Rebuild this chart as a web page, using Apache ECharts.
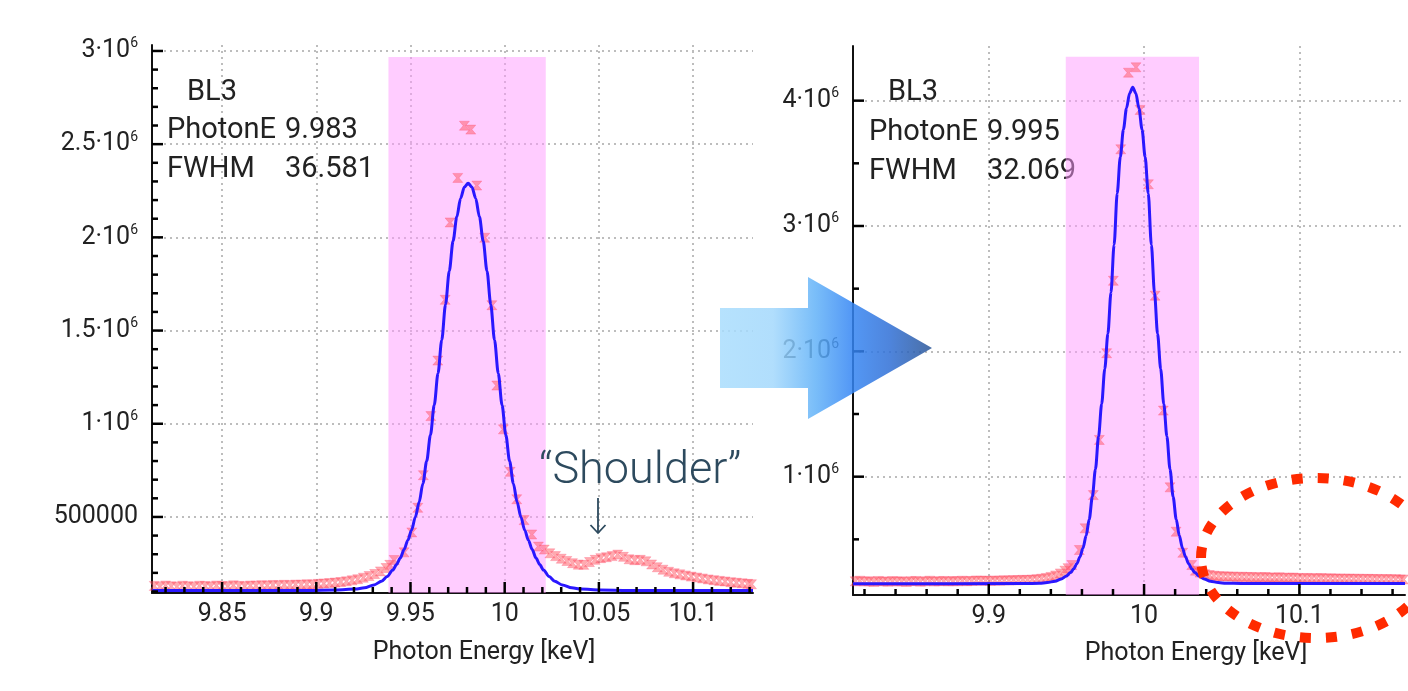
<!DOCTYPE html>
<html>
<head>
<meta charset="utf-8">
<script src="https://cdn.jsdelivr.net/npm/echarts@6/dist/echarts.min.js"></script>
<style>
html,body{margin:0;padding:0;background:#fff;}
#c{width:1408px;height:691px;}
</style>
</head>
<body>
<div id="c"></div>
<script>
// ---------- DATA (intensities in units of 10^6 counts, energies in keV) ----------
const L_DATA_E = [9.814,9.817,9.820,9.823,9.826,9.829,9.832,9.835,9.838,9.841,9.844,9.847,9.850,9.853,9.856,9.859,9.862,9.865,9.868,9.871,9.874,9.877,9.880,9.883,9.886,9.889,9.892,9.895,9.898,9.901,9.904,9.907,9.910,9.913,9.916,9.919,9.922,9.925,9.928,9.931,9.934,9.937,9.939,
  9.9413,9.9466,9.9507,9.9539,9.9568,9.9608,9.9645,9.9684,9.9710,9.9751,9.9786,9.9820,9.9852,9.9894,9.9932,9.9958,9.9993,10.0029,10.0064,10.0103,10.0144,10.0179,
  10.021,10.024,10.027,10.030,10.033,10.036,10.039,10.042,10.045,10.048,10.051,10.054,10.057,10.060,10.063,10.066,10.069,10.072,10.075,10.078,10.081,10.084,10.087,10.090,10.093,10.096,10.099,10.102,10.105,10.108,10.111,10.114,10.117,10.120,10.123,10.126,10.129,10.131];
const L_DATA_I = [0.130,0.126,0.132,0.128,0.125,0.131,0.128,0.126,0.131,0.129,0.127,0.132,0.129,0.128,0.133,0.130,0.128,0.132,0.131,0.134,0.132,0.135,0.133,0.136,0.134,0.137,0.136,0.139,0.138,0.141,0.143,0.145,0.148,0.151,0.155,0.160,0.166,0.174,0.183,0.194,0.208,0.226,0.243,
  0.269,0.310,0.417,0.549,0.724,1.041,1.339,1.665,2.080,2.319,2.599,2.578,2.278,1.998,1.636,1.205,0.970,0.742,0.595,0.483,0.406,0.341,
  0.325,0.305,0.290,0.276,0.264,0.252,0.244,0.243,0.258,0.270,0.279,0.284,0.290,0.298,0.286,0.273,0.268,0.270,0.262,0.245,0.230,0.217,0.206,0.198,0.192,0.186,0.180,0.175,0.170,0.165,0.161,0.157,0.154,0.150,0.147,0.144,0.141,0.139];
const L_FIT_E = [9.813,9.8956,9.9106,9.9206,9.9256,9.9306,9.9346,9.9376,9.9406,9.9426,9.9446,9.9466,9.9486,9.9506,9.9526,9.9546,9.9566,9.9586,9.9606,9.9626,9.9646,9.9666,9.9686,9.9706,9.9726,9.9746,9.9766,9.9786,9.9806,
  9.9826,9.9846,9.9866,9.9886,9.9906,9.9926,9.9946,9.9966,9.9986,10.0006,10.0026,10.0046,10.0066,10.0086,10.0106,10.0126,10.0146,10.0166,10.0186,10.0206,10.0236,10.0266,10.0306,10.0356,10.0406,10.0506,10.0656,10.1318];
const L_FIT_I = [0.105,0.106,0.108,0.113,0.120,0.135,0.155,0.180,0.215,0.245,0.280,0.325,0.375,0.430,0.500,0.580,0.680,0.800,0.940,1.100,1.270,1.450,1.640,1.820,1.980,2.110,2.210,2.270,2.290,
  2.270,2.210,2.110,1.980,1.820,1.640,1.450,1.270,1.100,0.940,0.800,0.680,0.580,0.500,0.430,0.375,0.325,0.280,0.245,0.215,0.180,0.155,0.135,0.120,0.113,0.108,0.106,0.105];

const R_DATA_E = [9.814,9.817,9.820,9.823,9.826,9.829,9.832,9.835,9.838,9.841,9.844,9.847,9.850,9.853,9.856,9.859,9.862,9.865,9.868,9.871,9.874,9.877,9.880,9.883,9.886,9.889,9.892,9.895,9.898,9.901,9.904,9.907,9.910,9.913,9.916,9.919,9.922,9.925,9.928,9.931,9.934,9.937,9.940,9.943,9.946,9.949,9.951,
  9.9535,9.9583,9.9620,9.9673,9.9712,9.9759,9.9802,9.9850,9.9899,9.9948,9.9974,10.0028,10.0071,10.0124,10.0167,10.0206,10.0249,10.0307,
  10.033,10.036,10.039,10.042,10.045,10.048,10.051,10.054,10.057,10.060,10.063,10.066,10.069,10.072,10.075,10.078,10.081,10.084,10.087,10.090,10.093,10.096,10.099,10.102,10.105,10.108,10.111,10.114,10.117,10.120,10.123,10.126,10.129,10.132,10.135,10.138,10.141,10.144,10.147,10.150,10.153,10.156,10.159,10.162,10.165,10.167];
const R_DATA_I = [0.165,0.170,0.163,0.166,0.160,0.168,0.164,0.162,0.167,0.163,0.165,0.160,0.166,0.168,0.162,0.165,0.170,0.163,0.166,0.168,0.164,0.167,0.165,0.170,0.166,0.168,0.172,0.169,0.171,0.168,0.172,0.170,0.174,0.172,0.175,0.174,0.177,0.176,0.179,0.182,0.186,0.192,0.200,0.212,0.228,0.250,0.270,
  0.295,0.415,0.588,0.853,1.293,1.985,2.563,3.612,4.223,4.266,3.926,3.333,2.444,1.527,0.915,0.561,0.393,0.295,
  0.250,0.235,0.222,0.215,0.210,0.206,0.205,0.203,0.204,0.200,0.202,0.199,0.200,0.198,0.197,0.199,0.196,0.195,0.197,0.194,0.193,0.195,0.192,0.190,0.192,0.190,0.189,0.191,0.188,0.189,0.187,0.188,0.186,0.187,0.185,0.186,0.184,0.185,0.183,0.184,0.182,0.183,0.181,0.182,0.180,0.180];
const R_FIT_E = [9.8126,9.9227,9.9327,9.9377,9.9427,9.9467,9.9497,9.9527,9.9547,9.9567,9.9587,9.9607,9.9627,9.9647,9.9667,9.9687,9.9707,9.9727,9.9747,9.9767,9.9787,9.9807,9.9827,9.9847,9.9867,9.9887,9.9907,9.9927,
  9.9947,9.9967,9.9987,10.0007,10.0027,10.0047,10.0067,10.0087,10.0107,10.0127,10.0147,10.0167,10.0187,10.0207,10.0227,10.0247,10.0267,10.0287,10.0307,10.0327,10.0357,10.0387,10.0427,10.0477,10.0527,10.0627,10.168];
const R_FIT_I = [0.145,0.147,0.150,0.155,0.166,0.183,0.205,0.235,0.265,0.305,0.360,0.430,0.530,0.660,0.840,1.060,1.320,1.580,1.860,2.140,2.470,2.850,3.260,3.550,3.770,3.940,4.060,4.107,
  4.060,3.940,3.770,3.550,3.260,2.850,2.470,2.140,1.860,1.580,1.320,1.060,0.840,0.660,0.530,0.430,0.360,0.305,0.265,0.235,0.205,0.183,0.166,0.155,0.150,0.148,0.148];

const L_X_RANGE = [9.8128, 10.1318];
const L_Y_RANGE = [0.092, 3.032];
const R_X_RANGE = [9.8126, 10.168];
const R_Y_RANGE = [0.056, 4.436];
const L_X_TICKS = [9.85, 9.9, 9.95, 10, 10.05, 10.1];
const L_X_MINOR = [9.82,9.83,9.84,9.86,9.87,9.88,9.89,9.91,9.92,9.93,9.94,9.96,9.97,9.98,9.99,10.01,10.02,10.03,10.04,10.06,10.07,10.08,10.09,10.11,10.12,10.13];
const L_Y_TICKS = [0.5, 1, 1.5, 2, 2.5, 3];
const L_Y_MINOR = [0.1,0.2,0.3,0.4,0.6,0.7,0.8,0.9,1.1,1.2,1.3,1.4,1.6,1.7,1.8,1.9,2.1,2.2,2.3,2.4,2.6,2.7,2.8,2.9];
const R_X_TICKS = [9.9, 10, 10.1];
const R_X_MINOR = [9.82,9.84,9.86,9.88,9.92,9.94,9.96,9.98,10.02,10.04,10.06,10.08,10.12,10.14,10.16];
const R_Y_TICKS = [1, 2, 3, 4];
const R_Y_MINOR = [0.5, 1.5, 2.5, 3.5];

const L_BAND = [9.9383, 10.0218, 2.968];
const R_BAND = [9.9496, 10.0354, 4.351];

const L_INFO = ['BL3', 'PhotonE', '9.983', 'FWHM', '36.581'];
const R_INFO = ['BL3', 'PhotonE', '9.995', 'FWHM', '32.069'];
const X_TITLE = 'Photon Energy [keV]';
const SHOULDER = '\u201CShoulder\u201D';

// ---------- CHART ----------
const FONT = 'Roboto';
const INK = '#222';
const AXIS = '#111';
const GRIDS = [
  { left: 152, top: 45, width: 601, height: 548 },
  { left: 853, top: 46, width: 552, height: 549 }
];
const RANGES = [[L_X_RANGE, L_Y_RANGE], [R_X_RANGE, R_Y_RANGE]];
const zip = (a, b) => a.map((v, i) => [v, b[i]]);

function yFmt(v) {
  if (v < 1) return String(Math.round(v * 1e6));
  return '{b|' + v + '\u00B710}{s|6}';
}
const yRich = {
  b: { fontSize: 25, fontFamily: FONT, color: INK, lineHeight: 28 },
  s: { fontSize: 14, fontFamily: FONT, color: INK, lineHeight: 14, verticalAlign: 'top' }
};
const split = { show: true, showMinLine: false, showMaxLine: false,
  lineStyle: { color: '#bdbdbd', width: 2, type: [2, 4] } };

function xAx(grid, range, ticks) {
  return { type: 'value', gridIndex: grid, position: 'bottom', min: range[0], max: range[1],
    axisLine: { show: true, onZero: false, lineStyle: { color: AXIS, width: 2 } },
    axisTick: { show: false }, minorTick: { show: false },
    axisLabel: { customValues: ticks, fontSize: 25, fontFamily: FONT, color: INK, margin: 9 },
    splitLine: split };
}
function yAx(grid, range, ticks) {
  return { type: 'value', gridIndex: grid, position: 'left', min: range[0], max: range[1],
    axisLine: { show: true, onZero: false, lineStyle: { color: AXIS, width: 2 } },
    axisTick: { show: false }, minorTick: { show: false },
    axisLabel: { customValues: ticks, formatter: yFmt, rich: yRich, fontSize: 25, fontFamily: FONT, color: INK, margin: 14 },
    splitLine: split };
}

const MARKER = 'path://M0,0 L10,0 L6.2,5 L10,10 L0,10 L3.8,5 Z';

function panelSeries(idx, dE, dI, fE, fI, band, yMin) {
  return [
    { type: 'line', xAxisIndex: idx, yAxisIndex: idx, data: zip(fE, fI), silent: true,
      showSymbol: false, symbol: 'none', z: 1, lineStyle: { width: 0, opacity: 0 },
      markArea: { silent: true, itemStyle: { color: 'rgba(255,153,255,0.5)' },
        data: [[{ xAxis: band[0], yAxis: band[2] }, { xAxis: band[1], yAxis: yMin }]] } },
    { type: 'scatter', xAxisIndex: idx, yAxisIndex: idx, data: zip(dE, dI), silent: true,
      symbol: MARKER, symbolSize: [10, 9], z: 3,
      itemStyle: { color: 'rgba(255,85,95,0.62)', borderColor: 'rgba(255,70,110,0.45)', borderWidth: 0.8 } },
    { type: 'line', xAxisIndex: idx, yAxisIndex: idx, data: zip(fE, fI), silent: true,
      showSymbol: false, symbol: 'none', smooth: 0.3, smoothMonotone: 'x', z: 4,
      lineStyle: { color: '#2a17ff', width: 3 } }
  ];
}

function txt(x, y, s, size) {
  return { type: 'text', x: x, y: y, z: 0,
    style: { text: s, fill: INK, font: size + 'px ' + FONT, textVerticalAlign: 'middle', textAlign: 'left' } };
}

const baseGraphic = [
  txt(187, 93, L_INFO[0], 29), txt(167, 131, L_INFO[1], 29), txt(285, 131, L_INFO[2], 29),
  txt(167, 170, L_INFO[3], 29), txt(285, 170, L_INFO[4], 29),
  txt(888, 93, R_INFO[0], 29), txt(869, 133, R_INFO[1], 29), txt(987, 133, R_INFO[2], 29),
  txt(869, 172, R_INFO[3], 29), txt(987, 172, R_INFO[4], 29),
  { type: 'text', x: 484, y: 653, z: 0, style: { text: X_TITLE, fill: INK, font: '25px ' + FONT, textAlign: 'center', textVerticalAlign: 'middle' } },
  { type: 'text', x: 1196, y: 654, z: 0, style: { text: X_TITLE, fill: INK, font: '25px ' + FONT, textAlign: 'center', textVerticalAlign: 'middle' } },
  { type: 'text', x: 539, y: 472, z: 50, style: { text: SHOULDER, fill: '#2d4a5e', font: '300 45px ' + FONT, textAlign: 'left', textVerticalAlign: 'middle' } },
  { type: 'line', z: 50, shape: { x1: 598, y1: 498, x2: 598, y2: 533 }, style: { stroke: '#2d4a5e', lineWidth: 1.8 } },
  { type: 'polyline', z: 50, shape: { points: [[590.5, 525], [598, 533], [605.5, 525]] }, style: { stroke: '#2d4a5e', lineWidth: 1.8, fill: null } },
  { type: 'polygon', z: 100,
    shape: { points: [[720, 308], [808, 308], [808, 277], [932, 348], [808, 419], [808, 388], [720, 388]] },
    style: { opacity: 0.85,
      fill: new echarts.graphic.LinearGradient(0, 0, 1, 0, [
        { offset: 0, color: '#a9ddfd' }, { offset: 0.25, color: '#a3d8fc' },
        { offset: 0.45, color: '#62b2f8' }, { offset: 0.62, color: '#3586f4' },
        { offset: 0.8, color: '#2f6fd6' }, { offset: 1, color: '#2a5596' }]) } },
  { type: 'ellipse', z: 110, shape: { cx: 1316, cy: 558, rx: 115, ry: 80 },
    style: { fill: null, stroke: '#ff2a00', lineWidth: 10, lineDash: [11, 15] } }
];

const chart = echarts.init(document.getElementById('c'), null, { renderer: 'canvas' });
chart.setOption({
  backgroundColor: '#ffffff',
  animation: false,
  grid: GRIDS.map(g => Object.assign({ outerBoundsMode: 'none', containLabel: false }, g)),
  xAxis: [ xAx(0, L_X_RANGE, L_X_TICKS), xAx(1, R_X_RANGE, R_X_TICKS) ],
  yAxis: [ yAx(0, L_Y_RANGE, L_Y_TICKS), yAx(1, R_Y_RANGE, R_Y_TICKS) ],
  series: [].concat(
    panelSeries(0, L_DATA_E, L_DATA_I, L_FIT_E, L_FIT_I, L_BAND, L_Y_RANGE[0]),
    panelSeries(1, R_DATA_E, R_DATA_I, R_FIT_E, R_FIT_I, R_BAND, R_Y_RANGE[0])
  )
});

// ---- tick marks: value -> pixel through the chart's own scale, linear grid mapping as a fallback ----
let usedFallback = false;
function toPx(i, pt) {
  let p = null;
  try { p = chart.convertToPixel({ xAxisIndex: i, yAxisIndex: i }, pt); } catch (e) { p = null; }
  if (!p || !isFinite(p[0]) || !isFinite(p[1])) {
    usedFallback = true;
    const g = GRIDS[i], xr = RANGES[i][0], yr = RANGES[i][1];
    p = [g.left + (pt[0] - xr[0]) / (xr[1] - xr[0]) * g.width,
         g.top + g.height - (pt[1] - yr[0]) / (yr[1] - yr[0]) * g.height];
  }
  return p;
}
function tickEls(i, vals, dir, len) {
  const xr = RANGES[i][0], yr = RANGES[i][1];
  return vals.map(function (v) {
    const p = toPx(i, dir === 'x' ? [v, yr[0]] : [xr[0], v]);
    return { type: 'rect', z: 60,
      shape: dir === 'x' ? { x: p[0] - 1.25, y: p[1] - len, width: 2.5, height: len }
                         : { x: p[0], y: p[1] - 1.25, width: len, height: 2.5 },
      style: { fill: '#000' } };
  });
}
const ticks = [].concat(
  tickEls(0, L_X_TICKS, 'x', 11), tickEls(0, L_X_MINOR, 'x', 6),
  tickEls(0, L_Y_TICKS, 'y', 11), tickEls(0, L_Y_MINOR, 'y', 6),
  tickEls(1, R_X_TICKS, 'x', 11), tickEls(1, R_X_MINOR, 'x', 6),
  tickEls(1, R_Y_TICKS, 'y', 11), tickEls(1, R_Y_MINOR, 'y', 6)
);
const status = usedFallback ? [{ type: 'text', x: 4, y: 684, z: 0, style: { text: 'fb', fill: '#ccc', font: '9px sans-serif' } }] : [];
chart.setOption({ graphic: { elements: baseGraphic.concat(ticks, status) } });
</script>
</body>
</html>
